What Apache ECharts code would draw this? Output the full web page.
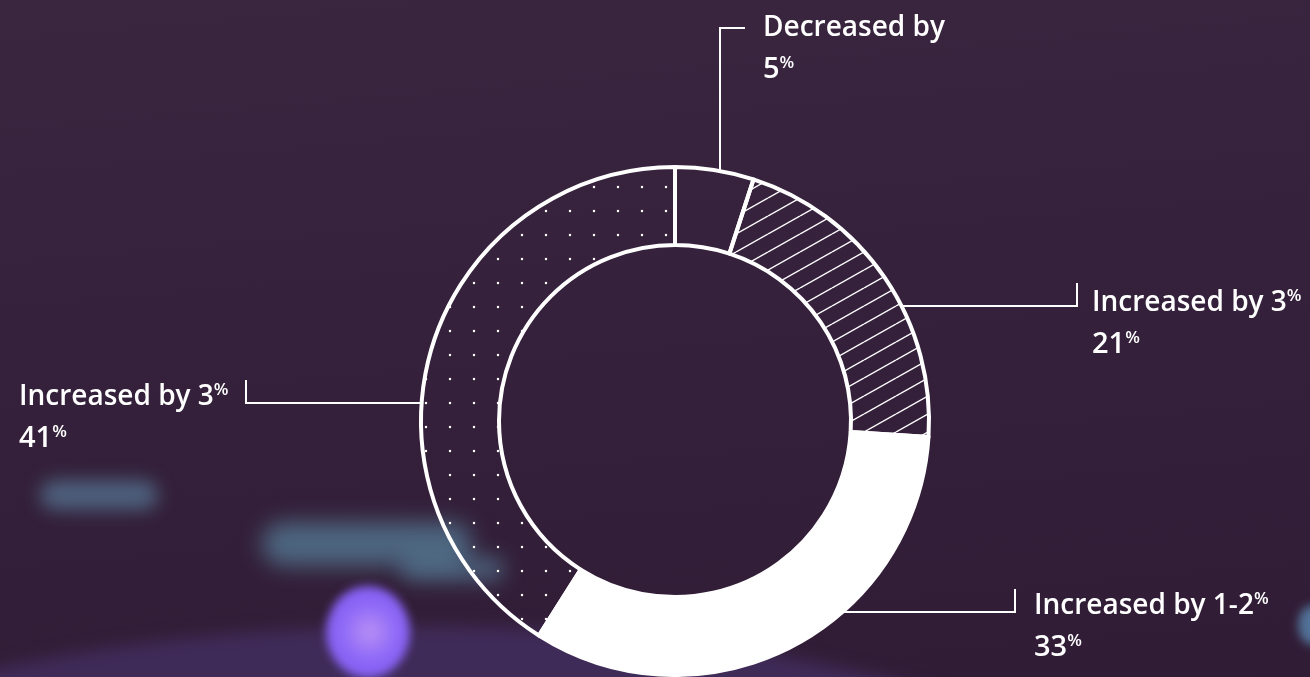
<!DOCTYPE html>
<html>
<head>
<meta charset="utf-8">
<script src="https://cdn.jsdelivr.net/npm/echarts@6/dist/echarts.min.js"></script>
<style>
  html, body { margin: 0; padding: 0; width: 1310px; height: 677px; overflow: hidden; }
  body { position: relative; background: linear-gradient(175deg, #3b2640 0%, #35213b 45%, #311c36 100%); }
  .deco { position: absolute; }
  #chart { position: absolute; left: 0; top: 0; width: 1310px; height: 677px; }
</style>
</head>
<body>
<div class="deco" style="left:-380px;top:626px;width:1600px;height:560px;border-radius:50%;background:#3f2b58;filter:blur(8px);"></div>
<div class="deco" style="left:40px;top:480px;width:118px;height:30px;border-radius:16px;background:rgba(95,140,170,0.6);filter:blur(9px);"></div>
<div class="deco" style="left:262px;top:522px;width:210px;height:44px;border-radius:22px;background:rgba(95,150,175,0.6);filter:blur(11px);"></div>
<div class="deco" style="left:400px;top:556px;width:105px;height:26px;border-radius:14px;background:rgba(95,150,175,0.5);filter:blur(10px);"></div>
<div class="deco" style="left:326px;top:586px;width:84px;height:92px;border-radius:50%;background:radial-gradient(circle at 52% 50%, #b890f5 0%, #8d68f7 45%, #7a55ee 100%);filter:blur(5px);"></div>
<div class="deco" style="left:1298px;top:605px;width:30px;height:40px;border-radius:50%;background:rgba(90,135,175,0.8);filter:blur(5px);"></div>
<div id="chart"></div>
<script>
// ---- data ----
var categories = ['Decreased by', 'Increased by 3', 'Increased by 1-2', 'Increased by 3'];
var values = [5, 21, 33, 41];

// ---- geometry / style (not data) ----
var CX = 675, CY = 421, R_IN = 176, R_OUT = 254;
var layouts = [
  { tx: 763, ty: 7,   vertical: true, lineX: 720, tickY: 28, tickEnd: 745 },
  { tx: 1092, ty: 282, lineY: 306, tickX: 1077, side: 1 },
  { tx: 1034, ty: 585, lineY: 612, tickX: 1015, side: 1 },
  { tx: 19,  ty: 376, lineY: 403, tickX: 246, side: -1 }
];

function makeDots() {
  var c = document.createElement('canvas');
  c.width = 24; c.height = 24;
  var g = c.getContext('2d');
  g.fillStyle = '#ffffff';
  g.beginPath(); g.arc(18, 19, 1.25, 0, Math.PI * 2); g.fill();
  return c;
}
function makeHatch() {
  var c = document.createElement('canvas');
  c.width = 32; c.height = 18;
  var g = c.getContext('2d');
  g.strokeStyle = '#ffffff';
  g.lineWidth = 1.4;
  [-18, 0, 18].forEach(function (dy) {
    g.beginPath(); g.moveTo(0, 18 + dy); g.lineTo(32, dy); g.stroke();
  });
  return c;
}

var fills = [
  'rgba(0,0,0,0)',
  { image: makeHatch(), repeat: 'repeat' },
  '#ffffff',
  { image: makeDots(), repeat: 'repeat' }
];

var chart = echarts.init(document.getElementById('chart'), null, { renderer: 'canvas' });

var data = values.map(function (v, i) {
  var top = '{a|' + categories[i] + '}' + (i === 0 ? '' : '{s|%}');
  return {
    value: v,
    name: categories[i],
    itemStyle: { color: fills[i] },
    label: { formatter: top + '\n{b|' + v + '}{s|%}' }
  };
});

var font = '"Open Sans", "Noto Sans", sans-serif';
chart.setOption({
  backgroundColor: 'transparent',
  animation: false,
  series: [{
    type: 'pie',
    center: [CX, CY],
    radius: [R_IN, R_OUT],
    startAngle: 90,
    clockwise: true,
    avoidLabelOverlap: false,
    silent: true,
    emphasis: { disabled: true },
    itemStyle: { borderColor: '#ffffff', borderWidth: 4 },
    data: data,
    label: {
      show: true,
      position: 'outside',
      align: 'left',
      rich: {
        a: { fontFamily: font, fontWeight: 600, fontSize: 28, color: '#ffffff', lineHeight: 42 },
        b: { fontFamily: font, fontWeight: 600, fontSize: 29, color: '#ffffff', lineHeight: 42 },
        s: { fontFamily: font, fontWeight: 600, fontSize: 17, color: '#ffffff', lineHeight: 17, padding: [0, 0, 14, 0] }
      }
    },
    labelLine: { show: true, lineStyle: { color: '#ffffff', width: 2 } },
    labelLayout: function (params) {
      var L = layouts[params.dataIndex];
      var pts;
      var r = R_OUT + 1;
      if (L.vertical) {
        var dx = L.lineX - CX;
        var y0 = CY - Math.sqrt(r * r - dx * dx);
        pts = [[L.lineX, y0], [L.lineX, L.tickY], [L.tickEnd, L.tickY]];
      } else {
        var dy = L.lineY - CY;
        var x0 = CX + L.side * Math.sqrt(r * r - dy * dy);
        pts = [[x0, L.lineY], [L.tickX, L.lineY], [L.tickX, L.lineY - 23]];
      }
      return { x: L.tx, y: L.ty, align: 'left', verticalAlign: 'top', labelLinePoints: pts };
    }
  }]
});
</script>
</body>
</html>
